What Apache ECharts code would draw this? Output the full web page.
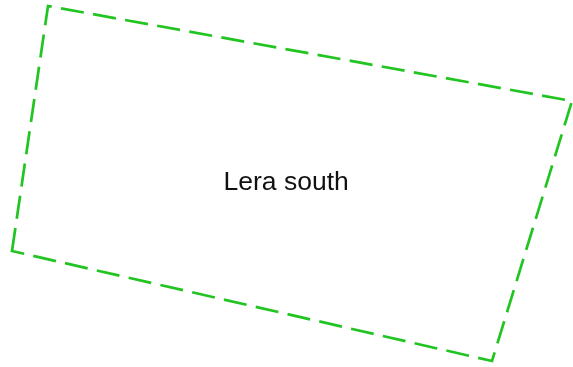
<!DOCTYPE html>
<html>
<head>
<meta charset="utf-8">
<style>
html,body{margin:0;padding:0;background:#fff;}
#chart{width:573px;height:367px;}
</style>
<script src="https://cdn.jsdelivr.net/npm/echarts@6/dist/echarts.min.js"></script>
</head>
<body>
<div id="chart"></div>
<script>
// Region name and its boundary ring (x, -y in map units), starting at the lower-left corner
const regionNames = ['Lera south'];
const boundaryX = [12, 48, 572, 492, 12];
const boundaryY = [-251, -6, -101, -361, -251];

const ring = boundaryX.map((x, i) => [x, boundaryY[i]]);
const geoJson = {
  type: 'FeatureCollection',
  features: [{
    type: 'Feature',
    properties: { name: regionNames[0] },
    geometry: { type: 'Polygon', coordinates: [ring] }
  }]
};
echarts.registerMap('lera', geoJson);

const chart = echarts.init(document.getElementById('chart'), null, { renderer: 'canvas' });
chart.setOption({
  animation: false,
  backgroundColor: '#ffffff',
  series: [{
    type: 'map',
    map: 'lera',
    roam: false,
    aspectScale: 1,
    left: 12,
    top: 6,
    width: 560,
    height: 355,
    selectedMode: false,
    silent: true,
    label: {
      show: true,
      fontSize: 26.5,
      offset: [1, 4],
      fontFamily: 'Liberation Sans, Arial, sans-serif',
      color: '#111111'
    },
    itemStyle: {
      areaColor: 'rgba(0,0,0,0)',
      borderColor: '#22c422',
      borderWidth: 2.7,
      borderType: [23.2, 9.4]
    },
    emphasis: { disabled: true },
    data: regionNames.map(n => ({ name: n, value: 1 }))
  }]
});
</script>
</body>
</html>
